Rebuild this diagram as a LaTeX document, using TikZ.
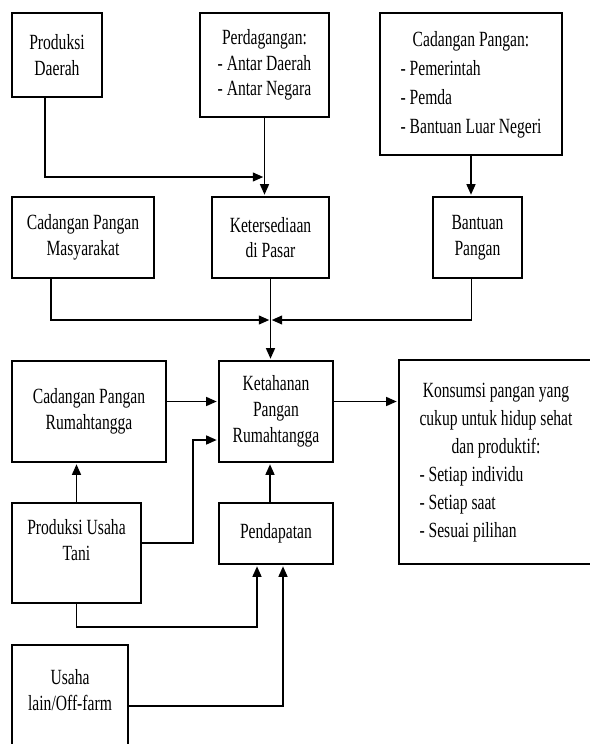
\documentclass[tikz,border=0pt]{standalone}
\usepackage{fontspec}
\setmainfont{Liberation Serif}[FakeStretch=0.72]
\usepackage{tikz}
\usetikzlibrary{positioning,calc,arrows.meta}

\newcommand{\px}{0.03cm}

\begin{document}
\begin{tikzpicture}[x=\px,y=-\px,>={Triangle[length=9pt,width=7.5pt]},
            line width=1.8pt,
            box/.style={draw,rectangle,align=center,inner sep=0pt,
              font=\fontsize{18.5}{22}\selectfont},
            link/.style={->,shorten >=1pt,line width=1.6pt}]

  \useasboundingbox (0,0) rectangle (590,744);
  \clip (0,0) rectangle (590,744);

  % top row
  \node[box, minimum width=90*\px, minimum height=84*\px] (prodDaerah) at (57,55)
    {Produksi\\Daerah};
  \node[box, minimum width=129*\px, minimum height=104*\px] (dagang) at (264.5,65)
    {\begin{tabular}{@{}l@{}}\multicolumn{1}{@{}c@{}}{Perdagangan:}\\
     - Antar Daerah\\- Antar Negara\end{tabular}};
  \node[box, minimum width=182*\px, minimum height=142*\px] (cadPangan) at (471,84)
    {\renewcommand{\arraystretch}{1.12}%
     \begin{tabular}{@{}l@{}}\multicolumn{1}{@{}c@{}}{Cadangan Pangan:}\\
     - Pemerintah\\- Pemda\\- Bantuan Luar Negeri\end{tabular}};

  % second row
  \node[box, minimum width=142*\px, minimum height=81*\px] (cadMasy) at (83,237.5)
    {Cadangan Pangan\\Masyarakat};
  \node[box, minimum width=117*\px, minimum height=81*\px] (sedia) at (270.5,237.5)
    {Ketersediaan\\di Pasar};
  \node[box, minimum width=89*\px, minimum height=81*\px] (bantuan) at (477.5,237.5)
    {Bantuan\\Pangan};

  % household level
  \node[box, minimum width=154*\px, minimum height=101*\px] (cadRT) at (89,411.5)
    {Cadangan Pangan\\Rumahtangga};
  \node[box, minimum width=114*\px, minimum height=101*\px] (ketahanan) at (276,411.5)
    {Ketahanan\\Pangan\\Rumahtangga};
  \node[box, minimum width=194*\px, minimum height=204*\px] (konsumsi) at (496,462)
    {\renewcommand{\arraystretch}{1.08}%
     \begin{tabular}{@{}l@{}}\multicolumn{1}{@{}c@{}}{Konsumsi pangan yang}\\
     \multicolumn{1}{@{}c@{}}{cukup untuk hidup sehat}\\
     \multicolumn{1}{@{}c@{}}{dan produktif:}\\
     - Setiap individu\\- Setiap saat\\- Sesuai pilihan\end{tabular}};

  % income side
  \node[box, minimum width=129*\px, minimum height=100*\px] (prodTani) at (76.5,553)
    {Produksi Usaha\\Tani\\~};
  \node[box, minimum width=114*\px, minimum height=61*\px] (pendapatan) at (276,533.5)
    {Pendapatan};
  \node[box, minimum width=116*\px, minimum height=115*\px] (usaha) at (70,702.5)
    {Usaha\\lain/Off-farm\\~};

  % junctions
  \coordinate (j1) at (dagang.south |- 0,177);
  \coordinate (j2) at (sedia.south |- 0,320);
  \coordinate (kOut) at ([yshift=10*\px]ketahanan.east);
  \coordinate (tOut) at ([yshift=10*\px]prodTani.east);
  \coordinate (kIn) at ([yshift=-28.5*\px]ketahanan.west);

  \draw[link] (dagang.south) -- (dagang.south |- sedia.north);
  \draw[link] ([xshift=-12*\px]prodDaerah.south) |- (j1);
  \draw[link] (cadPangan.south) -- (cadPangan.south |- bantuan.north);

  \draw[link] ([xshift=-32*\px]cadMasy.south) |- (j2);
  \draw[link] ([xshift=-6*\px]bantuan.south) |- (j2);
  \draw[link] (sedia.south) -- (sedia.south |- ketahanan.north);

  \draw[link] ([yshift=10*\px]cadRT.east) -- ([yshift=10*\px]ketahanan.west);
  \draw[link] (kOut) -- (kOut -| konsumsi.west);
  \draw[link] (tOut) -- ++(51,0) |- (kIn);
  \draw[link] (prodTani.north) -- (prodTani.north |- cadRT.south);
  \draw[link] ([xshift=-6*\px]pendapatan.north) -- ([xshift=-6*\px]ketahanan.south);

  \draw[link] (prodTani.south) -- ++(0,23) -| ([xshift=-19*\px]pendapatan.south);
  \draw[link] ([yshift=-3.5*\px]usaha.east) -| ([xshift=7*\px]pendapatan.south);
\end{tikzpicture}
\end{document}
